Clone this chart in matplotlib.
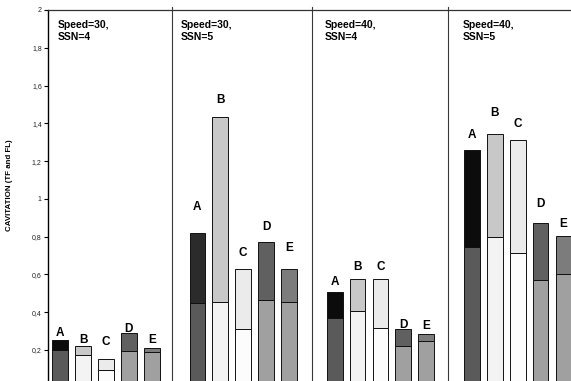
import matplotlib
matplotlib.use("Agg")
import matplotlib.pyplot as plt

plt.rcParams['font.family'] = ['Liberation Sans', 'DejaVu Sans']

# four test conditions, five propellers each
groups = ["Speed=30,\nSSN=4", "Speed=30,\nSSN=5", "Speed=40,\nSSN=4", "Speed=40,\nSSN=5"]
props = ["A", "B", "C", "D", "E"]

# lower segment (TF) and upper segment (FL) of each stacked bar
tf = [
    [0.200, 0.175, 0.094, 0.193, 0.188],
    [0.448, 0.456, 0.313, 0.462, 0.453],
    [0.368, 0.407, 0.318, 0.223, 0.248],
    [0.743, 0.800, 0.713, 0.570, 0.603],
]
fl = [
    [0.053, 0.045, 0.060, 0.096, 0.021],
    [0.371, 0.976, 0.318, 0.307, 0.173],
    [0.140, 0.170, 0.255, 0.088, 0.037],
    [0.514, 0.542, 0.596, 0.302, 0.200],
]

# baseline heights for the letters above the bars
label_y = [
    [0.273, 0.236, 0.226, 0.295, 0.236],
    [0.942, 1.508, 0.699, 0.836, 0.726],
    [0.546, 0.625, 0.625, 0.316, 0.309],
    [1.324, 1.437, 1.381, 0.956, 0.853],
]

yticks = [0.2, 0.4, 0.6, 0.8, 1.0, 1.2, 1.4, 1.6, 1.8, 2.0]

low_colors = ['#5a5a5a', '#f3f3f3', '#fcfcfc', '#a0a0a0', '#a0a0a0']
top_colors = ['#0c0c0c', '#c8c8c8', '#ebebeb', '#606060', '#7c7c7c']

fig = plt.figure(figsize=(5.71, 3.81), dpi=100)
ax = fig.add_axes([48 / 571, 1 - 387.7 / 381, 1 - 48 / 571, 377.7 / 381])

for g in range(len(groups)):
    xs = [g * 6 + i for i in range(len(props))]
    tops = list(top_colors)
    if g == 1:
        tops[0] = '#2b2b2b'
    ax.bar(xs, tf[g], width=0.69, color=low_colors, edgecolor='#111111', linewidth=0.7)
    ax.bar(xs, fl[g], bottom=tf[g], width=0.69, color=tops, edgecolor='#111111', linewidth=0.7)
    for i, p in enumerate(props):
        ax.text(xs[i], label_y[g][i], p, ha='center', va='baseline',
                fontsize=8.5, fontweight='bold')

# condition headers and separators
title_x = [-0.10, 5.28, 11.58, 17.6]
for g, name in enumerate(groups):
    ax.text(title_x[g], 1.945, name, ha='left', va='top', fontsize=7.5,
            fontweight='bold', linespacing=1.15)
for x in [4.9, 11.0, 16.95]:
    ax.axvline(x, ymax=1.008, color='#3a3a3a', linewidth=0.8, clip_on=False)

ax.set_xlim(-0.53, 22.33)
ax.set_ylim(0, 2)
ax.set_xticks([])
ax.set_yticks(yticks)
ax.set_yticklabels([f"{v:g}".replace('.', ',') for v in yticks], fontsize=5, color='#222222')
ax.tick_params(axis='y', direction='out', length=3, width=0.8, pad=1.5)

ax.spines['right'].set_visible(False)
ax.spines['bottom'].set_visible(False)
ax.spines['left'].set_linewidth(1.0)
ax.spines['top'].set_linewidth(0.9)
ax.spines['top'].set_color('#333333')

fig.text(10 / 571, 1 - 185 / 381, "CAVITATION (TF and FL)", rotation=90,
         ha='center', va='center', fontsize=5.7, fontweight='bold')

fig.savefig("out.png", dpi=100)
